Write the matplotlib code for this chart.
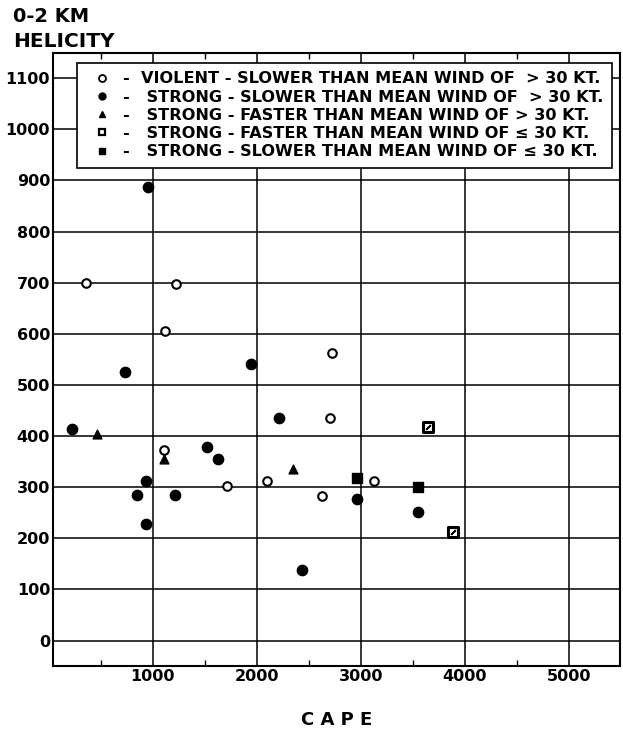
import matplotlib
matplotlib.use("Agg")
from matplotlib import pyplot as plt
from matplotlib.lines import Line2D
from matplotlib.ticker import MultipleLocator

# violent - slower than mean wind of > 30 kt
violent_x = [360, 1220, 1120, 2720, 2700, 1105, 1710, 2095, 2630, 3125]
violent_y = [700, 697, 605, 562, 436, 372, 302, 313, 282, 312]

# strong - slower than mean wind of > 30 kt
slow_x = [950, 730, 1940, 2210, 225, 935, 850, 935, 1210, 1520, 1630, 2435, 2960, 3545]
slow_y = [887, 525, 542, 436, 413, 312, 285, 228, 284, 379, 356, 139, 277, 252]

# strong - faster than mean wind of > 30 kt
fast_x = [465, 1105, 2345]
fast_y = [405, 355, 336]

# strong - faster than mean wind of <= 30 kt
fast_weak_x = [3645, 3890]
fast_weak_y = [418, 212]

# strong - slower than mean wind of <= 30 kt
slow_weak_x = [2960, 3545]
slow_weak_y = [318, 300]

labels = ["-  VIOLENT - SLOWER THAN MEAN WIND OF  > 30 KT.",
          "-   STRONG - SLOWER THAN MEAN WIND OF  > 30 KT.",
          "-   STRONG - FASTER THAN MEAN WIND OF > 30 KT.",
          "-   STRONG - FASTER THAN MEAN WIND OF \u2264 30 KT.",
          "-   STRONG - SLOWER THAN MEAN WIND OF \u2264 30 KT."]

plt.rcParams['font.family'] = 'DejaVu Sans'
plt.rcParams['font.weight'] = 'bold'

fig = plt.figure(figsize=(6.23, 7.32), dpi=100)
ax = fig.add_axes([0.085, 0.090, 0.910, 0.838])

ax.set_xlim(40, 5490)
ax.set_ylim(-50, 1150)
ax.xaxis.set_major_locator(MultipleLocator(1000))
ax.xaxis.set_minor_locator(MultipleLocator(500))
ax.yaxis.set_major_locator(MultipleLocator(100))
ax.grid(True, which='major', color='black', lw=1.1)
ax.set_axisbelow(True)
for sp in ax.spines.values():
    sp.set_linewidth(1.5)
ax.tick_params(which='major', length=0, labelsize=11.5, pad=2)
ax.tick_params(which='minor', direction='in', length=4, top=True, width=1)
ax.set_xticks([1000, 2000, 3000, 4000, 5000])

ax.scatter(violent_x, violent_y, s=38, facecolors='white', edgecolors='black', linewidths=1.5, zorder=3)
ax.scatter(slow_x, slow_y, s=55, c='black', zorder=3)
ax.scatter(fast_x, fast_y, s=40, c='black', marker='^', zorder=3)
# hatched square: dark border, white centre with a slash
ax.scatter(fast_weak_x, fast_weak_y, s=45, marker='s', facecolors='white', edgecolors='black',
           linewidths=2.2, zorder=3)
ax.scatter(fast_weak_x, fast_weak_y, s=14, marker=(2, 2, -45), c='black', linewidths=1.3, zorder=4)
ax.scatter(slow_weak_x, slow_weak_y, s=50, marker='s', c='black', zorder=3)

handles = [
    Line2D([], [], ls='', marker='o', ms=5, mfc='white', mec='black', mew=1.3),
    Line2D([], [], ls='', marker='o', ms=5, mfc='black', mec='black'),
    Line2D([], [], ls='', marker='^', ms=5, mfc='black', mec='black'),
    Line2D([], [], ls='', marker='s', ms=5, mfc='white', mec='black', mew=1.6),
    Line2D([], [], ls='', marker='s', ms=5, mfc='black', mec='black'),
]
leg = ax.legend(handles, labels, loc='upper right', bbox_to_anchor=(0.986, 0.984),
                borderaxespad=0, fancybox=False, edgecolor='black', framealpha=1,
                handlelength=2.0, handletextpad=0.3, borderpad=0.55, labelspacing=0.2,
                prop={'size': 11.6, 'weight': 'bold'})
leg.get_frame().set_linewidth(1.2)

fig.text(0.021, 0.978, "0-2 KM", fontsize=14, fontweight='bold', va='center')
fig.text(0.021, 0.943, "HELICITY", fontsize=14.5, fontweight='bold', va='center')
fig.text(0.541, 0.016, "C A P E", fontsize=13, fontweight='bold', ha='center', va='center')

fig.savefig("out.png", dpi=100)
